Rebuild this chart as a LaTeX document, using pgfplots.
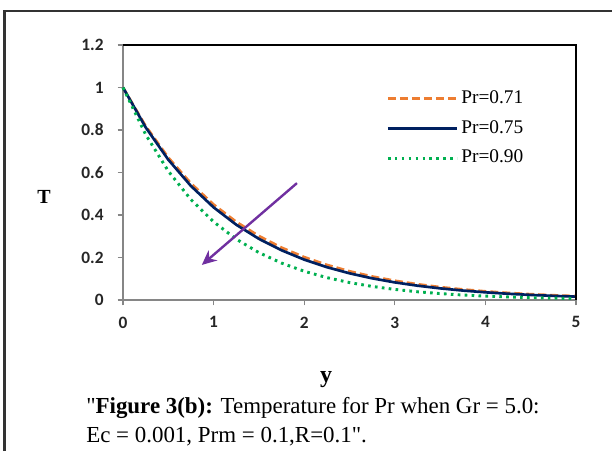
\documentclass[border=0pt]{standalone}
\usepackage{pgfplots}
\pgfplotsset{compat=1.18}
\usetikzlibrary{arrows.meta}
\usepackage{fontspec}
\setmainfont{Liberation Serif}
\newfontfamily\capfont{Liberation Serif}
\newfontfamily\carlito{Carlito}
\definecolor{cOrange}{RGB}{237,125,49}
\definecolor{cNavy}{RGB}{0,32,96}
\definecolor{cGreen}{RGB}{0,176,80}
\definecolor{cPurple}{RGB}{112,48,160}
\definecolor{cAxis}{RGB}{134,134,134}
\begin{document}
\begin{tikzpicture}[x=0.75pt,y=-0.75pt]
\path[use as bounding box] (0,0) rectangle (612,451);
\draw[line width=1.5pt,black!80] (4.5,451) -- (4.5,11) -- (612,11);
\begin{axis}[
  scale only axis,
  width=339.75pt, height=191.25pt,
  at={(92.25pt,-225pt)}, anchor=south west,
  xmin=0, xmax=5, ymin=0, ymax=1.2,
  xtick={0,1,2,3,4,5}, ytick={0,0.2,0.4,0.6,0.8,1,1.2},
  yticklabels={0,0.2,0.4,0.6,0.8,1,1.2},
  xticklabels={0,1,2,3,4,5},
  axis x line*=bottom, axis y line*=left,
  axis line style={cAxis, line width=0.9pt, -},
  tick style={cAxis, line width=0.9pt},
  tick align=outside, major tick length=4pt,
  tick label style={font=\carlito\bfseries\fontsize{13}{15}\selectfont, text=black!85},
  xticklabel style={yshift=-5pt},
  yticklabel style={xshift=-7pt},
  clip=false,
  legend style={draw=none, fill=none, at={(0.572,0.845)}, anchor=north west,
    font=\fontsize{14.5}{16}\selectfont, row sep=5.3pt,
    nodes={inner sep=2pt, text height=10pt, text depth=3pt}},
  legend cell align=left,
  legend image code/.code={\draw[#1] (0pt,0pt) -- (52pt,0pt);},
]
\addplot[cOrange, line width=2pt, dash pattern=on 6pt off 3pt] coordinates {
(0,1) (0.25,0.8187) (0.5,0.6703) (0.75,0.5488) (1,0.4493) (1.25,0.3679) (1.5,0.3012) (1.75,0.2466) (2,0.2019) (2.25,0.1653) (2.5,0.1353) (2.75,0.1108) (3,0.0907) (3.25,0.0743) (3.5,0.0608) (3.75,0.0498) (4,0.0408) (4.25,0.0334) (4.5,0.0273) (4.75,0.0224) (5,0.0183)};
\addlegendentry{Pr=0.71}
\addplot[cNavy, line width=2pt] coordinates {
(0,1) (0.25,0.8126) (0.5,0.6603) (0.75,0.5366) (1,0.4360) (1.25,0.3543) (1.5,0.2879) (1.75,0.2340) (2,0.1901) (2.25,0.1545) (2.5,0.1256) (2.75,0.1020) (3,0.0829) (3.25,0.0674) (3.5,0.0548) (3.75,0.0445) (4,0.0362) (4.25,0.0294) (4.5,0.0239) (4.75,0.0194) (5,0.0158)};
\addlegendentry{Pr=0.75}
\addplot[cGreen, line width=2.2pt, dash pattern=on 2pt off 3.2pt] coordinates {
(0,1) (0.25,0.7788) (0.5,0.6065) (0.75,0.4724) (1,0.3679) (1.25,0.2865) (1.5,0.2231) (1.75,0.1738) (2,0.1353) (2.25,0.1054) (2.5,0.0821) (2.75,0.0639) (3,0.0498) (3.25,0.0388) (3.5,0.0302) (3.75,0.0235) (4,0.0183) (4.25,0.0143) (4.5,0.0111) (4.75,0.0087) (5,0.0067)};
\addlegendentry{Pr=0.90}
\draw[black, line width=1pt] (rel axis cs:0,1) -- (rel axis cs:1,1) -- (rel axis cs:1,0);
\draw[cPurple, line width=1.8pt, -{Stealth[length=11pt,width=10pt]}] (axis cs:1.92,0.55) -- (axis cs:0.87,0.165);
\end{axis}
\node[font=\bfseries\fontsize{15}{17}\selectfont] at (44,197) {T};
\node[font=\bfseries\fontsize{18}{20}\selectfont] at (326,380) {y};
\node[anchor=north west, inner sep=0pt, align=left, font=\capfont\fontsize{17.2}{21.5}\selectfont] at (86,397)
  {"\textbf{Figure 3(b):} Temperature for Pr when Gr = 5.0:\\ Ec = 0.001, Prm = 0.1,R=0.1".};
\end{tikzpicture}
\end{document}
